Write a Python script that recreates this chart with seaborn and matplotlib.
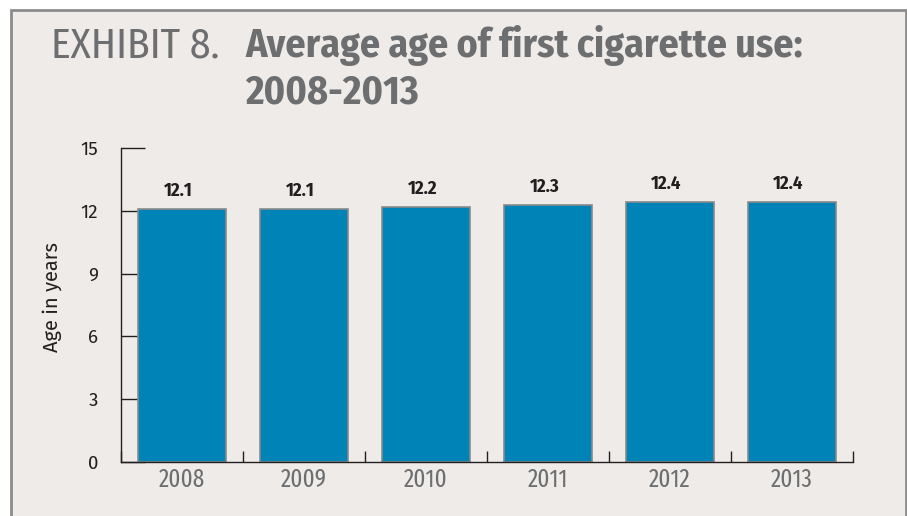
import matplotlib
matplotlib.use("Agg")
import matplotlib.pyplot as plt
import seaborn as sns
import pandas as pd
from matplotlib.patches import Rectangle

years = ["2008", "2009", "2010", "2011", "2012", "2013"]
ages = [12.1, 12.1, 12.2, 12.3, 12.4, 12.4]
yticks = [0, 3, 6, 9, 12, 15]

sns.set_theme(style="white")
xcond = ["Fira Sans Extra Condensed", "PT Sans Narrow", "Liberation Sans", "DejaVu Sans"]
cond = ["Fira Sans Condensed", "PT Sans Narrow", "Liberation Sans", "DejaVu Sans"]
reg = ["Fira Sans", "PT Sans", "Open Sans", "DejaVu Sans"]
plt.rcParams["font.family"] = reg

W, H = 907, 516
fig = plt.figure(figsize=(W / 100, H / 100), dpi=100)
fig.patch.set_facecolor("white")
bg = "#EFEBE8"
fig.patches.append(Rectangle((11 / W, -0.1), (906 - 11) / W, 0.1 + (H - 10) / H,
                             transform=fig.transFigure, facecolor=bg,
                             edgecolor="#8C8C8C", linewidth=2, zorder=-10))

ax = fig.add_axes([121 / W, (H - 462) / H, (853 - 121) / W, (462 - 148) / H])
ax.set_facecolor(bg)

df = pd.DataFrame({"year": years, "age": ages})
sns.barplot(data=df, x="year", y="age", color="#0083B6", saturation=1,
            width=0.72, edgecolor="#8A8A8A", linewidth=1.2, ax=ax)

ax.set_ylim(0, 15)
ax.set_xlim(-0.5, 5.5)
ax.set_yticks(yticks)
ax.set_yticklabels([str(t) for t in yticks], fontsize=13.5, color="#231F20",
                   family=reg)
ax.tick_params(axis="y", direction="in", length=17, width=1, color="#231F20",
               pad=16.5, left=True)
ax.set_xticks(range(len(years)))
ax.set_xticklabels(years, fontsize=18, color="#6D6E70", family=xcond)
ax.tick_params(axis="x", length=0, pad=4)
ax.set_xticks([i + 0.5 for i in range(-1, len(years))], minor=True)
ax.tick_params(axis="x", which="minor", direction="in", length=8, width=1,
               color="#231F20", bottom=True)

for s in ["top", "right"]:
    ax.spines[s].set_visible(False)
for s in ["left", "bottom"]:
    ax.spines[s].set_color("#231F20")
    ax.spines[s].set_linewidth(1)

ax.set_xlabel("")
ax.set_ylabel("Age in years", fontsize=14.5, color="#231F20", family=reg)
ax.yaxis.set_label_coords(-0.081, 0.525)

for i, v in enumerate(ages):
    ax.text(i - 0.03, v + 0.62, f"{v:.1f}", ha="center", va="baseline",
            fontsize=13.5, fontweight="bold", color="#231F20", family=cond)

fig.text(51 / W, 1 - 57 / H, "EXHIBIT 8.", fontsize=30, color="#6D6E70",
         ha="left", va="baseline", family=cond)
fig.text(245 / W, 1 - 57 / H, "Average age of first cigarette use:",
         fontsize=28.7, fontweight="bold", color="#6D6E70", ha="left",
         va="baseline", family=cond)
fig.text(245 / W, 1 - 103 / H, "2008-2013",
         fontsize=28.7, fontweight="bold", color="#6D6E70", ha="left",
         va="baseline", family=cond)

fig.savefig("out.png", dpi=100, facecolor=fig.get_facecolor())
